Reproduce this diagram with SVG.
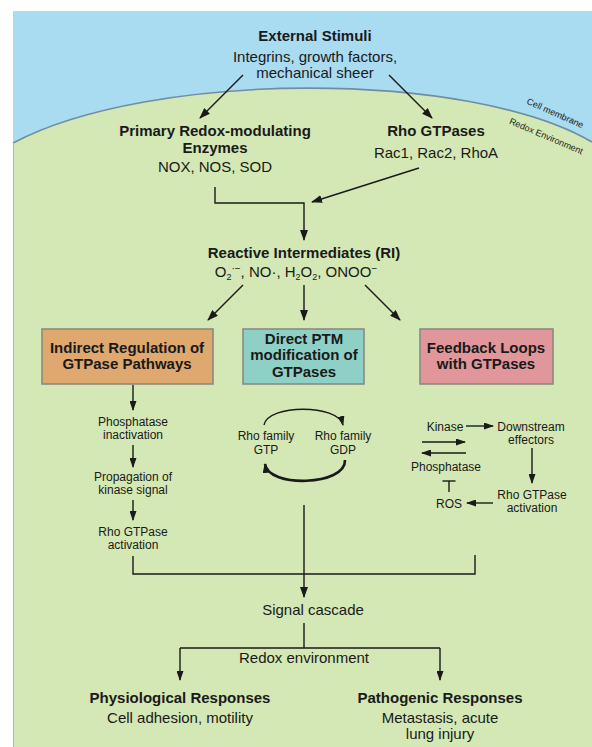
<svg xmlns="http://www.w3.org/2000/svg" width="592" height="747" viewBox="0 0 592 747">
<style>
text{font-family:"Liberation Sans",Arial,sans-serif;fill:#1a1a1a;text-anchor:middle}
.m{font-size:15px}
.b{font-size:15px;font-weight:bold}
.s{font-size:12px}
.t{font-size:9px}
.ln{fill:none;stroke:#1a1a1a;stroke-width:1.4}
.box{stroke:#8a8a80;stroke-width:1.6}
</style>
<defs>
<marker id="ah" markerUnits="userSpaceOnUse" markerWidth="11" markerHeight="8" refX="10" refY="4" orient="auto"><path d="M0,0 L11,4 L0,8 z" fill="#1a1a1a"/></marker>
<marker id="as" markerUnits="userSpaceOnUse" markerWidth="10" markerHeight="7" refX="9" refY="3.5" orient="auto"><path d="M0,0 L10,3.5 L0,7 z" fill="#1a1a1a"/></marker>
</defs>
<g id="background">
<rect x="13" y="11" width="579" height="736" fill="#a9dbf1"/>
<path d="M13,143 C150,70 470,70 592,142 L592,747 L13,747 Z" fill="#d3e8b4"/>
<path d="M13,143 C150,70 470,70 592,142" fill="none" stroke="#6f8ea3" stroke-width="1.6"/>
<line x1="13.5" y1="143" x2="13.5" y2="747" stroke="#a9b8a8" stroke-width="1"/>
<text class="t" transform="translate(554,116) rotate(24)">Cell membrane</text>
<text class="t" transform="translate(545,139) rotate(23)">Redox Environment</text>
</g>
<g id="connectors">
<line class="ln" x1="243" y1="75" x2="200" y2="118" marker-end="url(#ah)"/>
<line class="ln" x1="389" y1="75" x2="432" y2="118" marker-end="url(#ah)"/>
<polyline class="ln" points="215,187 215,203 304,203 304,240" marker-end="url(#ah)"/>
<line class="ln" x1="419" y1="168" x2="312" y2="202" marker-end="url(#ah)"/>
<line class="ln" x1="243" y1="285" x2="208" y2="320" marker-end="url(#ah)"/>
<line class="ln" x1="304" y1="285" x2="304" y2="320" marker-end="url(#ah)"/>
<line class="ln" x1="365" y1="285" x2="400" y2="320" marker-end="url(#ah)"/>
<line class="ln" x1="133" y1="385" x2="133" y2="410" marker-end="url(#as)"/>
<line class="ln" x1="133" y1="445" x2="133" y2="467" marker-end="url(#as)"/>
<line class="ln" x1="133" y1="500" x2="133" y2="520" marker-end="url(#as)"/>
<path class="ln" d="M264,425 C268,404 338,404 343,425" marker-end="url(#as)"/>
<path d="M345,460 C346,486 268,488 265,464" fill="none" stroke="#1a1a1a" stroke-width="2.6" marker-end="url(#as)"/>
<line class="ln" x1="466" y1="426" x2="493" y2="426" marker-end="url(#as)"/>
<line class="ln" x1="422" y1="442" x2="465" y2="442" marker-end="url(#as)"/>
<line class="ln" x1="466" y1="453" x2="422" y2="453" marker-end="url(#as)"/>
<line class="ln" x1="532" y1="448" x2="532" y2="483" marker-end="url(#as)"/>
<line class="ln" x1="493" y1="503" x2="467" y2="503" marker-end="url(#as)"/>
<line class="ln" x1="449" y1="492" x2="449" y2="481"/>
<line class="ln" x1="442.5" y1="481" x2="455.5" y2="481"/>
<polyline class="ln" points="133,556 133,574 475,574 475,555"/>
<line class="ln" x1="304" y1="505" x2="304" y2="597" marker-end="url(#ah)"/>
<polyline class="ln" points="304,623 304,648"/>
<polyline class="ln" points="180,648 440,648"/>
<line class="ln" x1="180" y1="648" x2="180" y2="680" marker-end="url(#as)"/>
<line class="ln" x1="440" y1="648" x2="440" y2="680" marker-end="url(#as)"/>
</g>
<g id="external-stimuli">
<text class="b" x="315" y="41">External Stimuli</text>
<text class="m" x="315" y="62">Integrins, growth factors,</text>
<text class="m" x="315" y="78">mechanical sheer</text>
</g>
<g id="primary-enzymes">
<text class="b" x="215" y="136">Primary Redox-modulating</text>
<text class="b" x="215" y="153">Enzymes</text>
<text class="m" x="215" y="172">NOX, NOS, SOD</text>
</g>
<g id="rho-gtpases">
<text class="b" x="436" y="136">Rho GTPases</text>
<text class="m" x="436" y="158">Rac1, Rac2, RhoA</text>
</g>
<g id="reactive-intermediates">
<text class="b" x="304" y="258">Reactive Intermediates (RI)</text>
<text class="m" x="296" y="277">O<tspan font-size="9" dy="3">2</tspan><tspan font-size="10" dy="-8">·−</tspan><tspan dy="5">, NO·, H</tspan><tspan font-size="9" dy="3">2</tspan><tspan dy="-3">O</tspan><tspan font-size="9" dy="3">2</tspan><tspan dy="-3">,  ONOO</tspan><tspan font-size="10" dy="-5">−</tspan></text>
</g>
<g id="indirect-regulation">
<rect class="box" x="42" y="329" width="171" height="55" fill="#dea86e"/>
<text class="b" x="127" y="353">Indirect Regulation of</text>
<text class="b" x="127" y="369">GTPase Pathways</text>
</g>
<g id="direct-ptm">
<rect class="box" x="243" y="329" width="121" height="55" fill="#8ed0c6"/>
<text class="b" x="304" y="344">Direct PTM</text>
<text class="b" x="304" y="360">modification of</text>
<text class="b" x="304" y="377">GTPases</text>
</g>
<g id="feedback-loops">
<rect class="box" x="420" y="329" width="133" height="55" fill="#e0969a"/>
<text class="b" x="486" y="353">Feedback Loops</text>
<text class="b" x="486" y="369">with GTPases</text>
</g>
<g id="phosphatase-inactivation">
<text class="s" x="133" y="426">Phosphatase</text>
<text class="s" x="133" y="439">inactivation</text>
</g>
<g id="propagation">
<text class="s" x="133" y="481">Propagation of</text>
<text class="s" x="133" y="494">kinase signal</text>
</g>
<g id="rho-activation-left">
<text class="s" x="133" y="536">Rho GTPase</text>
<text class="s" x="133" y="549">activation</text>
</g>
<g id="rho-gtp">
<text class="s" x="266" y="440">Rho family</text>
<text class="s" x="266" y="454">GTP</text>
</g>
<g id="rho-gdp">
<text class="s" x="343" y="440">Rho family</text>
<text class="s" x="343" y="454">GDP</text>
</g>
<g id="kinase"><text class="s" x="445" y="430.5">Kinase</text></g>
<g id="downstream">
<text class="s" x="531" y="430.5">Downstream</text>
<text class="s" x="531" y="443.5">effectors</text>
</g>
<g id="phosphatase"><text class="s" x="446" y="471">Phosphatase</text></g>
<g id="ros"><text class="s" x="449" y="507.5">ROS</text></g>
<g id="rho-activation-right">
<text class="s" x="532" y="498.5">Rho GTPase</text>
<text class="s" x="532" y="511.5">activation</text>
</g>
<g id="signal-cascade"><text class="m" x="313" y="615">Signal cascade</text></g>
<g id="redox-environment"><text class="m" x="304" y="663">Redox environment</text></g>
<g id="physiological">
<text class="b" x="180" y="703">Physiological Responses</text>
<text class="m" x="180" y="722.5">Cell adhesion, motility</text>
</g>
<g id="pathogenic">
<text class="b" x="440" y="703">Pathogenic Responses</text>
<text class="m" x="440" y="722.5">Metastasis, acute</text>
<text class="m" x="440" y="739">lung injury</text>
</g>
</svg>
